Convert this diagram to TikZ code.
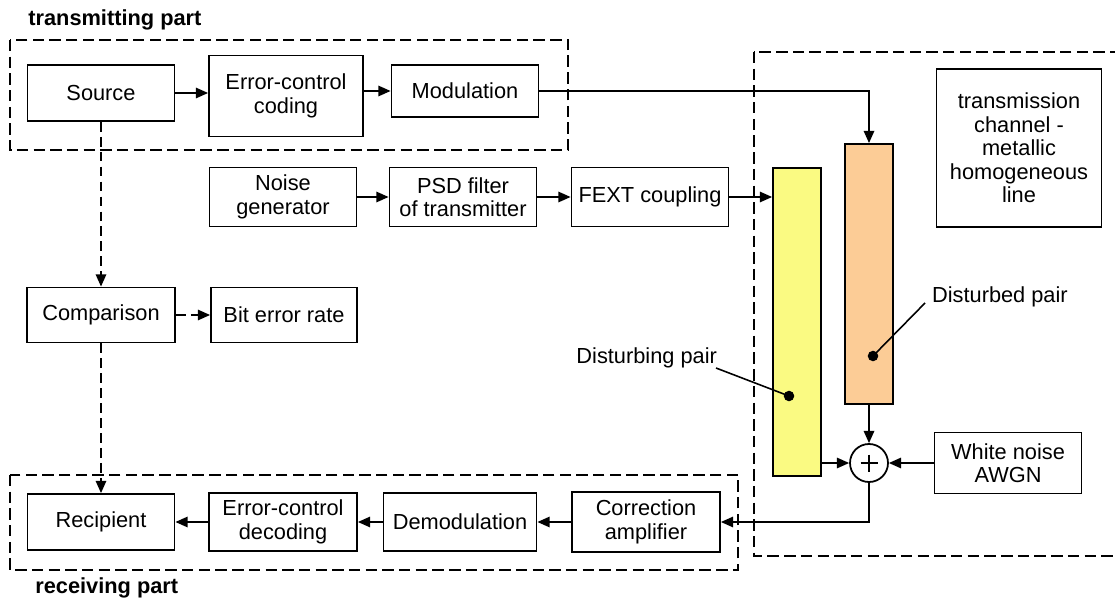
\documentclass[tikz,border=0pt]{standalone}
\usepackage{fontspec}
\setmainfont{Liberation Sans}
\usetikzlibrary{arrows.meta}
\definecolor{disturbingyellow}{RGB}{250,250,130}
\definecolor{disturbedorange}{RGB}{252,204,150}
\begin{document}
\begin{tikzpicture}
[x=0.02cm,y=-0.02cm,
 blockdecorate/.style={shape=rectangle,draw,line width=1.05pt,align=center,inner sep=1pt,font=\fontsize{12.4}{13.4}\selectfont},
 pairdecorate/.style={shape=rectangle,draw,line width=1.05pt,inner sep=0pt},
 framedecorate/.style={draw,line width=1pt,dash pattern=on 6.5pt off 3pt},
 linedecorate/.style={-{Triangle[length=7pt,width=6pt]},line width=0.9pt},
 dashdecorate/.style={linedecorate,dash pattern=on 5.5pt off 3pt},
 textdecorate/.style={inner sep=1pt,font=\fontsize{12.4}{13.4}\selectfont},
 partdecorate/.style={anchor=west,inner sep=0pt,font=\fontsize{12.4}{14}\selectfont\bfseries}]
\useasboundingbox (0,0) rectangle (1115,601);
%% dashed frames
\draw[framedecorate] (10,40) rectangle (568,150);
\draw[framedecorate] (10,475) rectangle (738,570);
\draw[framedecorate] (754,52) rectangle (1118,556);
\node (transmitlabel) at (28,20) [partdecorate] {transmitting part};
\node (receivelabel) at (35,588) [partdecorate] {receiving part};
%% blocks
\foreach \nodename/\x/\y/\w/\h/\txt in {
  source/101/93/147/56/{Source},
  coding/286/96/154/81/{Error-control\\coding},
  modulation/465/91/147/52/{Modulation},
  noise/283/197/147/59/{Noise\\generator},
  psd/463/197/147/59/{PSD filter\\of transmitter},
  fext/650/197/157/59/{FEXT coupling},
  comparison/101/315/148/55/{Comparison},
  ber/284/315/146/55/{Bit error rate},
  recipient/101/522/147/56/{Recipient},
  decoding/283/522/148/58/{Error-control\\decoding},
  demod/460/522/153/58/{Demodulation},
  correction/646/522/148/60/{Correction\\amplifier},
  channel/1019/148/165/158/{transmission\\channel -\\metallic\\homogeneous\\line},
  awgn/1008/463/147/61/{White noise\\AWGN}} {
  \node (\nodename) at (\x,\y) [blockdecorate,minimum width=\w*0.02cm,minimum height=\h*0.02cm] {\txt};
}
%% pairs of the line
\node (yellowpair) at (797,322) [pairdecorate,fill=disturbingyellow,minimum width=48*0.02cm,minimum height=308*0.02cm] {};
\node (orangepair) at (869,274) [pairdecorate,fill=disturbedorange,minimum width=48*0.02cm,minimum height=260*0.02cm] {};
\node (sum) at (869,463) [shape=circle,draw,line width=1pt,fill=white,minimum size=38*0.02cm,inner sep=0pt] {};
\draw[line width=0.9pt] (sum.center) +(-8.5,0) -- +(8.5,0) (sum.center) +(0,-8.5) -- +(0,8.5);
%% edges
\path
\foreach \startnode/\endnode in {noise/psd, psd/fext, correction/demod, demod/decoding, decoding/recipient, orangepair/sum, awgn/sum} {
  (\startnode) edge[linedecorate] (\endnode)
};
\path
\foreach \startnode/\endnode in {source/comparison, comparison/recipient, comparison/ber} {
  (\startnode) edge[dashdecorate] (\endnode)
};
\draw[linedecorate] (source) -- (source -| coding.west);
\draw[linedecorate] (coding.east |- modulation) -- (modulation);
\draw[linedecorate] (modulation) -| (orangepair);
\draw[linedecorate] (fext) -- (fext -| yellowpair.west);
\draw[linedecorate] (sum -| yellowpair.east) -- (sum);
\draw[linedecorate] (sum) |- (correction);
%% pair labels
\coordinate (disturbeddot) at (873,356);
\coordinate (disturbedend) at (925,303);
\node (disturbedlabel) at (930,297) [textdecorate,anchor=west] {Disturbed pair};
\coordinate (disturbingdot) at (789,396);
\coordinate (disturbingend) at (716,368);
\node (disturbinglabel) at (719,358) [textdecorate,anchor=east] {Disturbing pair};
\draw[line width=0.9pt] (disturbeddot) -- (disturbedend);
\draw[line width=0.9pt] (disturbingdot) -- (disturbingend);
\fill (disturbeddot) circle (3pt);
\fill (disturbingdot) circle (3pt);
\end{tikzpicture}
\end{document}
